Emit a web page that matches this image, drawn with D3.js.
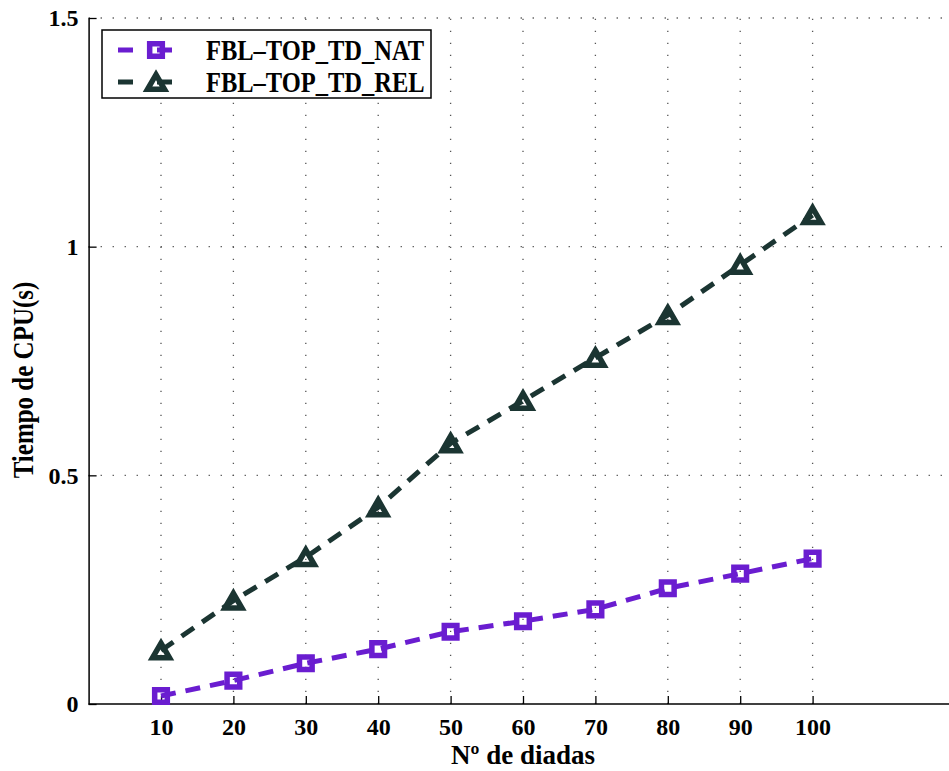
<!DOCTYPE html>
<html lang="es">
<head>
    <meta charset="UTF-8">
    <title>Tiempo de CPU</title>
    <style>
        body { margin: 0; background: #fff; }
        text { font-family: "Liberation Serif", "Times New Roman", serif; font-weight: bold; }
    </style>
    <script src="https://cdnjs.cloudflare.com/ajax/libs/d3/7.8.5/d3.min.js"></script>
</head>
<body>
    <div id="chart"></div>
    <script>
        // Data
        const diadas = [10, 20, 30, 40, 50, 60, 70, 80, 90, 100];
        const natValues = [0.0175, 0.051, 0.089, 0.120, 0.158, 0.181, 0.207, 0.253, 0.285, 0.318];
        const relValues = [0.117, 0.226, 0.321, 0.430, 0.570, 0.663, 0.757, 0.850, 0.960, 1.069];
        const seriesNames = ["FBL\u2013TOP_TD_NAT", "FBL\u2013TOP_TD_REL"];
        const xTicks = [10, 20, 30, 40, 50, 60, 70, 80, 90, 100];
        const yTicks = [0, 0.5, 1, 1.5];

        const W = 949, H = 771;
        const plotLeft = 88.6, plotBottom = 704, plotTop = 18;

        const svg = d3.select("#chart").append("svg")
            .attr("width", W)
            .attr("height", H);

        // axes run past the right edge (figure was cropped)
        const x = d3.scaleLinear().domain([0, 120]).range([plotLeft, plotLeft + 7.24 * 120]);
        const y = d3.scaleLinear().domain([0, 1.5]).range([plotBottom, plotTop]);

        // grid
        const grid = svg.append("g")
            .attr("stroke", "#555")
            .attr("stroke-width", 1.3)
            .attr("stroke-dasharray", "1.3,10.7");
        grid.selectAll(".vg").data(xTicks).enter().append("line")
            .attr("x1", d => x(d)).attr("x2", d => x(d))
            .attr("y1", plotBottom).attr("y2", plotTop);
        grid.selectAll(".hg").data(yTicks.slice(1)).enter().append("line")
            .attr("x1", plotLeft).attr("x2", W)
            .attr("y1", d => y(d)).attr("y2", d => y(d));

        // axes (MATLAB style: inward ticks)
        const xAxis = svg.append("g")
            .attr("transform", `translate(0,${plotBottom})`)
            .call(d3.axisBottom(x).tickValues(xTicks).tickSizeInner(-8).tickSizeOuter(0).tickPadding(14));
        const yAxis = svg.append("g")
            .attr("transform", `translate(${plotLeft},0)`)
            .call(d3.axisLeft(y).tickValues(yTicks).tickFormat(d3.format("")).tickSizeInner(-8).tickSizeOuter(0).tickPadding(10));

        [xAxis, yAxis].forEach(a => {
            a.select(".domain").attr("stroke", "#000").attr("stroke-width", 1.5);
            a.selectAll(".tick line").attr("stroke", "#000").attr("stroke-width", 1.3);
            a.selectAll(".tick text")
                .attr("fill", "#000")
                .style("font-family", "'Liberation Serif', serif")
                .style("font-weight", "bold")
                .style("font-size", "24px");
        });
        xAxis.select(".domain").attr("d", `M${plotLeft},0H${W}`);

        // axis labels
        svg.append("text")
            .attr("x", 523).attr("y", 764)
            .attr("text-anchor", "middle")
            .style("font-size", "27px")
            .text("N\u00ba de diadas");
        svg.append("text")
            .attr("transform", "translate(33,380) rotate(-90) scale(1,1.15)")
            .attr("text-anchor", "middle")
            .style("font-size", "25px")
            .text("Tiempo de CPU(s)");

        // series
        const series = [
            { name: seriesNames[0], values: natValues, color: "#6a1dd0", marker: "square" },
            { name: seriesNames[1], values: relValues, color: "#1b3532", marker: "triangle" }
        ];

        const line = d3.line()
            .x((d, i) => x(diadas[i]))
            .y(d => y(d));

        const sqSize = 160, triSize = 125;
        const sqSym = d3.symbol().type(d3.symbolSquare).size(sqSize);
        const triSym = d3.symbol().type(d3.symbolTriangle).size(triSize);
        // shift so the triangle's bounding box (not centroid) sits on the point
        const triShift = Math.sqrt(triSize / (Math.sqrt(3) * 3)) / 2;

        function drawMarker(g, s, cx, cy) {
            const sym = s.marker === "square" ? sqSym : triSym;
            const dy = s.marker === "triangle" ? triShift : 0;
            g.append("path")
                .attr("d", sym())
                .attr("transform", `translate(${cx},${cy + dy})`)
                .attr("fill", "none")
                .attr("stroke", s.color)
                .attr("stroke-width", 5.5)
                .attr("stroke-linejoin", "miter");
        }

        series.forEach(s => {
            svg.append("path")
                .datum(s.values)
                .attr("d", line)
                .attr("fill", "none")
                .attr("stroke", s.color)
                .attr("stroke-width", 5)
                .attr("stroke-dasharray", "15,10");
            const g = svg.append("g");
            s.values.forEach((v, i) => drawMarker(g, s, x(diadas[i]), y(v)));
        });

        // legend
        const legend = svg.append("g");
        legend.append("rect")
            .attr("x", 102).attr("y", 30)
            .attr("width", 329).attr("height", 68)
            .attr("fill", "#fff")
            .attr("stroke", "#000")
            .attr("stroke-width", 1.5);
        series.forEach((s, i) => {
            const ly = 50 + i * 32;
            legend.append("line")
                .attr("x1", 118).attr("x2", 195)
                .attr("y1", ly).attr("y2", ly)
                .attr("stroke", s.color)
                .attr("stroke-width", 5)
                .attr("stroke-dasharray", "15,24");
            drawMarker(legend, s, 156, ly);
            legend.append("text")
                .attr("transform", `translate(206,${ly + 10}) scale(1,1.2)`)
                .style("font-size", "24.5px")
                .text(s.name);
        });
    </script>
</body>
</html>
